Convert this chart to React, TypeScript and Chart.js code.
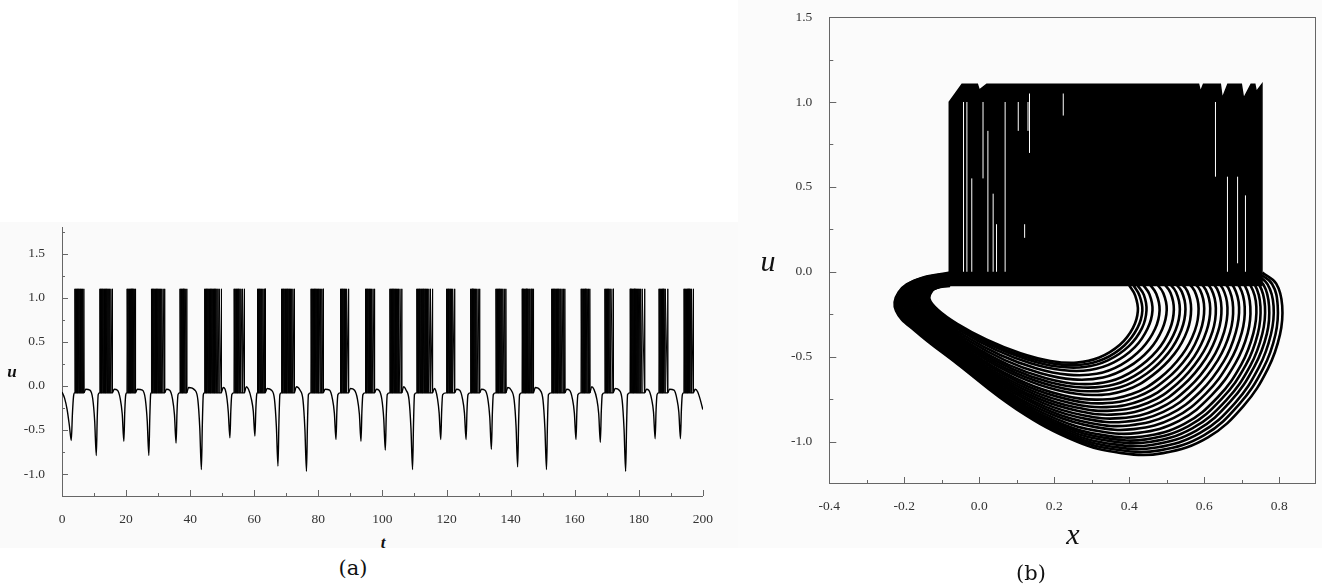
import React, { useEffect, useRef } from "react";
import { Chart, registerables } from "chart.js";
Chart.register(...registerables);

// ---------- axes / ticks ----------
const leftXMajor = [0, 20, 40, 60, 80, 100, 120, 140, 160, 180, 200];
const leftXMinor = [10, 30, 50, 70, 90, 110, 130, 150, 170, 190];
const leftYMajor = [-1.0, -0.5, 0.0, 0.5, 1.0, 1.5];
const leftYMinor = [-0.75, -0.25, 0.25, 0.75, 1.25, 1.75];
const rightXMajor = [-0.4, -0.2, 0.0, 0.2, 0.4, 0.6, 0.8];
const rightXMinor = [-0.3, -0.1, 0.1, 0.3, 0.5, 0.7];
const rightYMajor = [-1.0, -0.5, 0.0, 0.5, 1.0, 1.5];
const rightYMinor = [-0.75, -0.25, 0.25, 0.75, 1.25];

// ---------- (a) u(t) ----------
const spikeBase = -0.08;
const spikePeak = 1.1;
const burstSpikes: number[][] = [
  [3.95, 4.2, 4.45, 4.7, 4.95, 5.2, 5.45, 5.7, 6.0, 6.35, 6.75],
  [11.75, 11.95, 12.2, 12.45, 12.7, 12.95, 13.2, 13.45, 13.7, 13.95, 14.2, 14.5, 14.8, 15.2, 15.65],
  [20.25, 20.5, 20.75, 21.0, 21.25, 21.5, 21.8, 22.15, 22.5, 22.85],
  [27.85, 28.1, 28.35, 28.6, 28.85, 29.1, 29.35, 29.6, 29.85, 30.1, 30.4, 30.7, 31.05, 31.5, 31.95],
  [36.75, 37.0, 37.25, 37.5, 37.75, 38.05, 38.4, 38.85],
  [44.45, 44.7, 44.95, 45.2, 45.45, 45.7, 45.95, 46.2, 46.45, 46.7, 46.95, 47.2, 47.45, 47.7, 47.95, 48.25, 48.6, 49.0, 49.65],
  [53.65, 53.9, 54.15, 54.4, 54.65, 54.9, 55.15, 55.45, 55.8, 56.3, 56.85],
  [60.95, 61.2, 61.45, 61.7, 61.95, 62.25, 62.6, 63.0, 63.35],
  [68.45, 68.7, 68.95, 69.2, 69.45, 69.7, 69.95, 70.2, 70.45, 70.7, 70.95, 71.25, 71.6, 72.0, 72.45],
  [77.65, 77.9, 78.15, 78.4, 78.65, 78.9, 79.15, 79.4, 79.65, 79.9, 80.2, 80.55, 81.0, 81.45],
  [86.85, 87.1, 87.35, 87.6, 87.85, 88.1, 88.4, 88.75, 89.35],
  [94.65, 94.9, 95.15, 95.4, 95.65, 95.9, 96.2, 96.55, 97.0, 97.45],
  [102.25, 102.5, 102.75, 103.0, 103.25, 103.5, 103.75, 104.0, 104.3, 104.6, 104.95, 105.4, 105.95],
  [110.65, 110.9, 111.15, 111.4, 111.65, 111.9, 112.15, 112.4, 112.65, 112.9, 113.15, 113.4, 113.7, 114.0, 114.4, 114.9, 115.55],
  [119.95, 120.2, 120.45, 120.7, 120.95, 121.2, 121.5, 121.85, 122.45],
  [127.45, 127.7, 127.95, 128.2, 128.45, 128.7, 129.0, 129.35, 129.8, 130.25],
  [135.35, 135.6, 135.85, 136.1, 136.35, 136.6, 136.85, 137.15, 137.5, 137.95, 138.45],
  [143.55, 143.8, 144.05, 144.3, 144.55, 144.8, 145.05, 145.3, 145.6, 145.9, 146.3, 146.65, 147.05],
  [152.75, 153.0, 153.25, 153.5, 153.75, 154.0, 154.25, 154.5, 154.75, 155.0, 155.3, 155.6, 156.0, 156.4, 156.85],
  [161.95, 162.2, 162.45, 162.7, 162.95, 163.2, 163.5, 163.85, 164.25, 164.65],
  [169.35, 169.6, 169.85, 170.1, 170.35, 170.6, 170.9, 171.25, 171.95],
  [177.25, 177.5, 177.75, 178.0, 178.25, 178.5, 178.75, 179.0, 179.25, 179.5, 179.8, 180.1, 180.5, 181.0, 181.75],
  [186.25, 186.5, 186.75, 187.0, 187.25, 187.5, 187.8, 188.2, 188.95],
  [194.05, 194.3, 194.55, 194.8, 195.05, 195.3, 195.6, 195.95, 196.4, 196.95],
];

// slow (sub-threshold) part of u(t): [t, u]
const slowCurve: [number, number][] = [
  [0, -0.07], [0.8, -0.14], [1.6, -0.27], [2.3, -0.45], [2.9, -0.62], [3.25, -0.32], [3.6, -0.12], [3.9, -0.08],
  [6.8, -0.08], [7.4, -0.04], [8.7, -0.05], [9.6, -0.15], [10.2, -0.4], [10.7, -0.79], [11.0, -0.36], [11.3, -0.1], [11.7, -0.08],
  [15.7, -0.08], [16.3, -0.04], [17.3, -0.05], [18.2, -0.15], [18.8, -0.32], [19.3, -0.63], [19.6, -0.28], [19.9, -0.1], [20.2, -0.08],
  [22.9, -0.08], [23.5, -0.04], [25.1, -0.05], [26.0, -0.15], [26.6, -0.4], [27.1, -0.79], [27.4, -0.36], [27.65, -0.1], [27.8, -0.08],
  [32.0, -0.08], [32.6, -0.04], [33.6, -0.05], [34.5, -0.15], [35.1, -0.33], [35.6, -0.65], [35.9, -0.29], [36.2, -0.1], [36.7, -0.08],
  [38.9, -0.08], [39.5, -0.02], [41.5, -0.05], [42.4, -0.16], [43.0, -0.48], [43.5, -0.95], [43.8, -0.43], [44.1, -0.1], [44.4, -0.08],
  [49.7, -0.08], [50.3, -0.02], [50.9, -0.04], [51.5, -0.15], [51.9, -0.3], [52.4, -0.59], [52.7, -0.27], [53.0, -0.1], [53.6, -0.08],
  [56.9, -0.08], [57.5, -0.01], [58.2, -0.04], [59.1, -0.15], [59.7, -0.29], [60.2, -0.57], [60.5, -0.26], [60.75, -0.1], [60.9, -0.08],
  [63.4, -0.08], [64.0, -0.03], [65.4, -0.05], [66.3, -0.15], [66.9, -0.46], [67.4, -0.91], [67.7, -0.41], [68.0, -0.1], [68.4, -0.08],
  [72.5, -0.08], [73.1, -0.01], [74.3, -0.05], [75.2, -0.16], [75.8, -0.49], [76.3, -0.97], [76.6, -0.44], [76.9, -0.1], [77.6, -0.08],
  [81.5, -0.08], [82.1, -0.04], [83.5, -0.05], [84.4, -0.15], [85.0, -0.31], [85.5, -0.61], [85.8, -0.27], [86.1, -0.1], [86.8, -0.08],
  [89.4, -0.08], [90.0, -0.03], [91.3, -0.05], [92.2, -0.15], [92.8, -0.32], [93.3, -0.63], [93.6, -0.28], [93.9, -0.1], [94.6, -0.08],
  [97.5, -0.08], [98.1, -0.04], [98.9, -0.05], [99.8, -0.15], [100.4, -0.37], [100.9, -0.73], [101.2, -0.33], [101.5, -0.1], [102.2, -0.08],
  [106.0, -0.08], [106.6, -0.01], [107.4, -0.05], [108.3, -0.16], [108.9, -0.48], [109.4, -0.95], [109.7, -0.43], [110.0, -0.1], [110.6, -0.08],
  [115.6, -0.08], [116.2, -0.03], [116.6, -0.05], [117.2, -0.15], [117.7, -0.31], [118.2, -0.61], [118.5, -0.27], [118.8, -0.1], [119.9, -0.08],
  [122.5, -0.08], [123.1, -0.04], [124.1, -0.05], [125.0, -0.15], [125.6, -0.31], [126.1, -0.61], [126.4, -0.27], [126.7, -0.1], [127.4, -0.08],
  [130.3, -0.08], [130.9, -0.04], [132.0, -0.05], [132.9, -0.15], [133.5, -0.36], [134.0, -0.72], [134.3, -0.32], [134.6, -0.1], [135.3, -0.08],
  [138.5, -0.08], [139.1, -0.02], [140.2, -0.05], [141.1, -0.16], [141.7, -0.46], [142.2, -0.92], [142.5, -0.41], [142.8, -0.1], [143.5, -0.08],
  [147.1, -0.08], [147.7, -0.02], [149.2, -0.05], [150.1, -0.16], [150.7, -0.48], [151.2, -0.95], [151.5, -0.43], [151.8, -0.1], [152.7, -0.08],
  [156.9, -0.08], [157.5, -0.04], [158.4, -0.05], [159.3, -0.15], [159.9, -0.31], [160.4, -0.61], [160.7, -0.27], [161.0, -0.1], [161.9, -0.08],
  [164.7, -0.08], [165.3, -0.01], [166.0, -0.04], [166.9, -0.15], [167.5, -0.32], [168.0, -0.64], [168.3, -0.29], [168.6, -0.1], [169.3, -0.08],
  [172.0, -0.08], [172.6, -0.03], [173.9, -0.05], [174.8, -0.16], [175.4, -0.49], [175.9, -0.97], [176.2, -0.44], [176.5, -0.1], [177.2, -0.08],
  [181.8, -0.08], [182.4, -0.04], [183.1, -0.05], [184.0, -0.15], [184.6, -0.3], [185.1, -0.6], [185.4, -0.27], [185.7, -0.1], [186.2, -0.08],
  [189.0, -0.08], [189.6, -0.04], [191.0, -0.05], [191.9, -0.15], [192.5, -0.3], [193.0, -0.6], [193.3, -0.27], [193.6, -0.1], [194.0, -0.08],
  [197.0, -0.08], [197.6, -0.04], [198.4, -0.07], [199.2, -0.16], [200, -0.27],
];

// ---------- (b) phase portrait (x, u) ----------
const blockBase = -0.085;
const blockX = [-0.08, -0.08, -0.046, -0.005, 0.0, 0.02, 0.585, 0.59, 0.598, 0.643, 0.648, 0.663, 0.699, 0.705, 0.725, 0.735, 0.739, 0.754, 0.754];
const blockU = [-0.085, 1.0, 1.105, 1.105, 1.07, 1.105, 1.105, 1.06, 1.105, 1.105, 1.02, 1.105, 1.105, 1.02, 1.105, 1.105, 1.06, 1.105, -0.085];

const gapX = [-0.042, -0.033, -0.02, 0.01, 0.023, 0.037, 0.046, 0.069, 0.104, 0.121, 0.13, 0.134, 0.224, 0.63, 0.662, 0.689, 0.71];
const gapLow = [0.0, 0.0, 0.0, 0.55, 0.0, 0.0, 0.0, 0.0, 0.83, 0.2, 0.83, 0.7, 0.92, 0.56, 0.0, 0.05, 0.0];
const gapHigh = [1.0, 1.0, 0.55, 1.0, 0.83, 0.46, 0.28, 1.0, 1.0, 0.28, 1.0, 1.05, 1.05, 1.0, 0.56, 0.56, 0.45];

// return loops after each burst (inner to outer)
const loopX: number[][] = [
  [0.400, 0.416, 0.423, 0.410, 0.375, 0.320, 0.260, 0.190, 0.110, 0.020, -0.060, -0.110, -0.133, -0.125, -0.112, -0.095, -0.078],
  [0.411, 0.427, 0.435, 0.422, 0.387, 0.332, 0.271, 0.199, 0.118, 0.027, -0.055, -0.109, -0.134, -0.128, -0.115, -0.097, -0.078],
  [0.421, 0.439, 0.446, 0.434, 0.399, 0.343, 0.281, 0.208, 0.126, 0.034, -0.050, -0.107, -0.135, -0.131, -0.118, -0.099, -0.078],
  [0.436, 0.454, 0.462, 0.449, 0.415, 0.359, 0.295, 0.220, 0.137, 0.044, -0.044, -0.105, -0.137, -0.135, -0.122, -0.102, -0.078],
  [0.453, 0.472, 0.481, 0.469, 0.434, 0.378, 0.313, 0.235, 0.151, 0.056, -0.036, -0.103, -0.139, -0.140, -0.128, -0.106, -0.078],
  [0.471, 0.491, 0.500, 0.488, 0.454, 0.397, 0.330, 0.250, 0.164, 0.068, -0.028, -0.100, -0.140, -0.144, -0.133, -0.109, -0.078],
  [0.489, 0.510, 0.519, 0.508, 0.474, 0.416, 0.348, 0.265, 0.178, 0.080, -0.020, -0.098, -0.142, -0.149, -0.138, -0.113, -0.078],
  [0.503, 0.525, 0.535, 0.524, 0.490, 0.432, 0.362, 0.277, 0.188, 0.090, -0.014, -0.096, -0.144, -0.153, -0.142, -0.115, -0.078],
  [0.517, 0.540, 0.550, 0.539, 0.505, 0.447, 0.376, 0.289, 0.199, 0.099, -0.007, -0.094, -0.145, -0.157, -0.146, -0.118, -0.078],
  [0.531, 0.555, 0.565, 0.555, 0.521, 0.462, 0.390, 0.301, 0.210, 0.109, -0.001, -0.092, -0.147, -0.161, -0.150, -0.121, -0.078],
  [0.549, 0.574, 0.585, 0.575, 0.541, 0.482, 0.407, 0.316, 0.223, 0.121, 0.007, -0.089, -0.149, -0.166, -0.155, -0.124, -0.078],
  [0.563, 0.589, 0.600, 0.590, 0.557, 0.497, 0.421, 0.328, 0.234, 0.130, 0.014, -0.087, -0.150, -0.170, -0.159, -0.127, -0.078],
  [0.578, 0.604, 0.616, 0.606, 0.573, 0.513, 0.435, 0.340, 0.245, 0.140, 0.020, -0.085, -0.152, -0.174, -0.164, -0.130, -0.078],
  [0.592, 0.619, 0.631, 0.622, 0.588, 0.528, 0.449, 0.352, 0.256, 0.150, 0.026, -0.083, -0.153, -0.177, -0.168, -0.133, -0.078],
  [0.606, 0.634, 0.646, 0.637, 0.604, 0.543, 0.463, 0.364, 0.267, 0.159, 0.033, -0.081, -0.155, -0.181, -0.172, -0.136, -0.078],
  [0.620, 0.649, 0.662, 0.653, 0.620, 0.559, 0.477, 0.376, 0.277, 0.169, 0.039, -0.079, -0.156, -0.185, -0.176, -0.138, -0.078],
  [0.634, 0.664, 0.677, 0.669, 0.636, 0.574, 0.491, 0.388, 0.288, 0.178, 0.046, -0.077, -0.157, -0.189, -0.180, -0.141, -0.078],
  [0.649, 0.679, 0.693, 0.684, 0.652, 0.590, 0.505, 0.400, 0.299, 0.188, 0.052, -0.075, -0.159, -0.193, -0.184, -0.144, -0.078],
  [0.663, 0.694, 0.708, 0.700, 0.667, 0.605, 0.519, 0.412, 0.310, 0.198, 0.058, -0.073, -0.160, -0.197, -0.188, -0.147, -0.078],
  [0.677, 0.709, 0.723, 0.716, 0.683, 0.620, 0.533, 0.424, 0.321, 0.207, 0.065, -0.071, -0.162, -0.201, -0.192, -0.150, -0.078],
  [0.691, 0.724, 0.739, 0.731, 0.699, 0.636, 0.547, 0.436, 0.331, 0.217, 0.071, -0.069, -0.163, -0.205, -0.196, -0.152, -0.078],
  [0.702, 0.736, 0.750, 0.743, 0.711, 0.647, 0.558, 0.445, 0.340, 0.224, 0.076, -0.068, -0.164, -0.207, -0.200, -0.155, -0.078],
  [0.712, 0.747, 0.762, 0.755, 0.723, 0.659, 0.568, 0.454, 0.348, 0.231, 0.081, -0.066, -0.166, -0.210, -0.203, -0.157, -0.078],
  [0.723, 0.758, 0.773, 0.767, 0.734, 0.670, 0.579, 0.463, 0.356, 0.238, 0.086, -0.065, -0.167, -0.213, -0.206, -0.159, -0.078],
  [0.734, 0.769, 0.785, 0.778, 0.746, 0.682, 0.589, 0.472, 0.364, 0.246, 0.090, -0.063, -0.168, -0.216, -0.209, -0.161, -0.078],
  [0.744, 0.781, 0.796, 0.790, 0.758, 0.693, 0.600, 0.481, 0.372, 0.253, 0.095, -0.062, -0.169, -0.219, -0.212, -0.163, -0.078],
  [0.755, 0.792, 0.808, 0.802, 0.770, 0.705, 0.610, 0.490, 0.380, 0.260, 0.100, -0.060, -0.170, -0.222, -0.215, -0.165, -0.078],
];
const loopU: number[][] = [
  [-0.080, -0.140, -0.230, -0.330, -0.430, -0.505, -0.535, -0.525, -0.480, -0.400, -0.305, -0.225, -0.160, -0.110, -0.095, -0.086, -0.084],
  [-0.078, -0.138, -0.229, -0.331, -0.434, -0.514, -0.548, -0.541, -0.498, -0.418, -0.320, -0.234, -0.166, -0.114, -0.096, -0.085, -0.082],
  [-0.076, -0.136, -0.228, -0.332, -0.438, -0.522, -0.561, -0.558, -0.515, -0.436, -0.335, -0.244, -0.171, -0.117, -0.097, -0.084, -0.079],
  [-0.073, -0.133, -0.227, -0.334, -0.444, -0.534, -0.579, -0.579, -0.539, -0.460, -0.356, -0.257, -0.179, -0.122, -0.098, -0.082, -0.076],
  [-0.069, -0.130, -0.226, -0.336, -0.451, -0.548, -0.601, -0.606, -0.568, -0.490, -0.381, -0.272, -0.189, -0.128, -0.099, -0.080, -0.072],
  [-0.065, -0.126, -0.224, -0.338, -0.458, -0.562, -0.623, -0.634, -0.598, -0.520, -0.406, -0.288, -0.198, -0.134, -0.100, -0.078, -0.068],
  [-0.061, -0.123, -0.223, -0.340, -0.465, -0.576, -0.645, -0.661, -0.627, -0.550, -0.431, -0.304, -0.208, -0.140, -0.101, -0.076, -0.064],
  [-0.058, -0.120, -0.221, -0.342, -0.471, -0.588, -0.663, -0.682, -0.651, -0.574, -0.451, -0.316, -0.215, -0.145, -0.102, -0.074, -0.061],
  [-0.055, -0.117, -0.220, -0.343, -0.476, -0.599, -0.680, -0.704, -0.674, -0.598, -0.472, -0.329, -0.223, -0.150, -0.103, -0.073, -0.058],
  [-0.052, -0.114, -0.219, -0.345, -0.482, -0.610, -0.698, -0.726, -0.698, -0.622, -0.492, -0.342, -0.230, -0.154, -0.104, -0.071, -0.055],
  [-0.049, -0.111, -0.217, -0.347, -0.489, -0.625, -0.720, -0.753, -0.727, -0.652, -0.517, -0.357, -0.240, -0.160, -0.106, -0.069, -0.051],
  [-0.046, -0.108, -0.216, -0.348, -0.494, -0.636, -0.737, -0.775, -0.750, -0.676, -0.537, -0.370, -0.247, -0.165, -0.107, -0.067, -0.048],
  [-0.043, -0.105, -0.215, -0.350, -0.500, -0.648, -0.755, -0.797, -0.774, -0.700, -0.558, -0.383, -0.255, -0.170, -0.108, -0.066, -0.045],
  [-0.040, -0.102, -0.214, -0.352, -0.506, -0.659, -0.773, -0.818, -0.798, -0.724, -0.578, -0.395, -0.263, -0.175, -0.109, -0.064, -0.041],
  [-0.037, -0.099, -0.213, -0.353, -0.511, -0.670, -0.790, -0.840, -0.821, -0.748, -0.598, -0.408, -0.270, -0.180, -0.110, -0.062, -0.038],
  [-0.034, -0.097, -0.211, -0.355, -0.517, -0.682, -0.808, -0.862, -0.845, -0.772, -0.618, -0.420, -0.278, -0.184, -0.111, -0.061, -0.035],
  [-0.031, -0.094, -0.210, -0.356, -0.522, -0.693, -0.825, -0.883, -0.868, -0.796, -0.638, -0.433, -0.285, -0.189, -0.112, -0.059, -0.032],
  [-0.028, -0.091, -0.209, -0.358, -0.528, -0.705, -0.843, -0.905, -0.892, -0.820, -0.659, -0.446, -0.293, -0.194, -0.113, -0.057, -0.029],
  [-0.025, -0.088, -0.208, -0.360, -0.534, -0.716, -0.861, -0.927, -0.915, -0.844, -0.679, -0.458, -0.301, -0.199, -0.114, -0.056, -0.026],
  [-0.022, -0.085, -0.207, -0.361, -0.539, -0.727, -0.878, -0.949, -0.939, -0.868, -0.699, -0.471, -0.308, -0.204, -0.115, -0.054, -0.022],
  [-0.019, -0.083, -0.205, -0.363, -0.545, -0.739, -0.896, -0.970, -0.962, -0.892, -0.719, -0.483, -0.316, -0.208, -0.116, -0.052, -0.019],
  [-0.016, -0.081, -0.205, -0.364, -0.549, -0.747, -0.909, -0.987, -0.980, -0.910, -0.734, -0.493, -0.322, -0.212, -0.116, -0.051, -0.017],
  [-0.014, -0.078, -0.204, -0.365, -0.553, -0.756, -0.922, -1.003, -0.997, -0.928, -0.749, -0.502, -0.327, -0.216, -0.117, -0.050, -0.014],
  [-0.012, -0.076, -0.203, -0.366, -0.557, -0.764, -0.935, -1.019, -1.015, -0.946, -0.765, -0.512, -0.333, -0.219, -0.118, -0.049, -0.012],
  [-0.010, -0.074, -0.202, -0.368, -0.562, -0.773, -0.949, -1.035, -1.033, -0.964, -0.780, -0.521, -0.339, -0.223, -0.119, -0.048, -0.010],
  [-0.007, -0.072, -0.201, -0.369, -0.566, -0.781, -0.962, -1.052, -1.050, -0.982, -0.795, -0.531, -0.344, -0.226, -0.119, -0.046, -0.007],
  [-0.005, -0.070, -0.200, -0.370, -0.570, -0.790, -0.975, -1.068, -1.068, -1.000, -0.810, -0.540, -0.350, -0.230, -0.120, -0.045, -0.005],
];

const SERIF = '"Liberation Serif", "Times New Roman", serif';
const AXIS_GRAY = "#666";

// inward tick marks (and optional frame)
const axisDecor = {
  id: "axisDecor",
  afterDatasetsDraw(chart: any, _args: any, opts: any) {
    const { ctx, chartArea: a, scales } = chart;
    const xs = scales.x;
    const ys = scales.y;
    ctx.save();
    ctx.strokeStyle = AXIS_GRAY;
    ctx.lineWidth = 1;
    if (opts.frame) {
      ctx.strokeRect(Math.round(a.left) + 0.5, Math.round(a.top) + 0.5, Math.round(a.right - a.left) - 1, Math.round(a.bottom - a.top) - 1);
    }
    ctx.beginPath();
    const xt = (vals: number[], len: number) =>
      vals.forEach((v) => {
        const p = Math.round(xs.getPixelForValue(v)) + 0.5;
        ctx.moveTo(p, a.bottom);
        ctx.lineTo(p, a.bottom - len);
      });
    const yt = (vals: number[], len: number) =>
      vals.forEach((v) => {
        const p = Math.round(ys.getPixelForValue(v)) + 0.5;
        ctx.moveTo(a.left, p);
        ctx.lineTo(a.left + len, p);
      });
    xt(opts.xMajor, opts.major);
    xt(opts.xMinor, opts.minor);
    yt(opts.yMajor, opts.major);
    yt(opts.yMinor, opts.minor);
    ctx.stroke();
    ctx.restore();
  },
};

export default function App() {
  const leftRef = useRef<HTMLCanvasElement>(null);
  const rightRef = useRef<HTMLCanvasElement>(null);

  useEffect(() => {
    const tickFont = { family: SERIF, size: 13.5 };

    // ---- (a) ----
    const slowData = slowCurve.map(([t, u]) => ({ x: t, y: u }));
    const spikeData: { x: number; y: number | null }[] = [];
    burstSpikes.forEach((burst) => {
      burst.forEach((s) => {
        spikeData.push({ x: s, y: spikeBase });
        spikeData.push({ x: s + 0.07, y: spikePeak });
      });
      const last = burst[burst.length - 1];
      spikeData.push({ x: last + 0.14, y: spikeBase });
      spikeData.push({ x: last + 0.15, y: null });
    });

    const left = new Chart(leftRef.current as HTMLCanvasElement, {
      type: "scatter",
      data: {
        datasets: [
          {
            data: spikeData as any,
            showLine: true,
            borderColor: "#000",
            borderWidth: 1,
            pointRadius: 0,
            tension: 0,
            spanGaps: false,
          },
          {
            data: slowData,
            showLine: true,
            borderColor: "#000",
            borderWidth: 1.4,
            pointRadius: 0,
            cubicInterpolationMode: "monotone",
          },
        ],
      },
      options: {
        responsive: false,
        animation: false,
        devicePixelRatio: 1,
        layout: { autoPadding: false, padding: { top: 16, right: 16.5, left: 0, bottom: 0 } },
        plugins: {
          legend: { display: false },
          tooltip: { enabled: false },
          axisDecor: { xMajor: leftXMajor, xMinor: leftXMinor, yMajor: leftYMajor, yMinor: leftYMinor, major: 6, minor: 3, frame: false },
        } as any,
        scales: {
          x: {
            type: "linear",
            min: 0,
            max: 200,
            grid: { display: false },
            border: { display: true, color: AXIS_GRAY, width: 1 },
            ticks: { font: tickFont, color: "#333", padding: 7, autoSkip: false, maxRotation: 0, callback: (v: any) => String(v) },
            afterBuildTicks: (s: any) => {
              s.ticks = leftXMajor.map((v) => ({ value: v }));
            },
            afterFit: (s: any) => {
              s.height = 34;
            },
          },
          y: {
            type: "linear",
            min: -1.25,
            max: 1.8,
            grid: { display: false },
            border: { display: true, color: AXIS_GRAY, width: 1 },
            ticks: { font: tickFont, color: "#333", padding: 9, autoSkip: false, callback: (v: any) => Number(v).toFixed(1) },
            afterBuildTicks: (s: any) => {
              s.ticks = leftYMajor.map((v) => ({ value: v }));
            },
            afterFit: (s: any) => {
              s.width = 62;
            },
          },
        },
      },
      plugins: [axisDecor as any],
    });

    // ---- (b) ----
    const blockData = blockX.map((x, i) => ({ x, y: blockU[i] }));
    const gapData: { x: number; y: number | null }[] = [];
    gapX.forEach((x, i) => {
      gapData.push({ x, y: gapLow[i] });
      gapData.push({ x, y: gapHigh[i] });
      gapData.push({ x, y: null });
    });
    const loopSets = loopX.map((xsArr, k) => ({
      data: xsArr.map((x, i) => ({ x, y: loopU[k][i] })),
      showLine: true,
      borderColor: "#000",
      borderWidth: 2.6,
      pointRadius: 0,
      tension: 0.4,
    }));

    const right = new Chart(rightRef.current as HTMLCanvasElement, {
      type: "scatter",
      data: {
        datasets: [
          {
            data: gapData as any,
            showLine: true,
            borderColor: "#fff",
            borderWidth: 1,
            pointRadius: 0,
            spanGaps: false,
          },
          {
            data: blockData,
            showLine: true,
            borderColor: "#000",
            borderWidth: 1.5,
            backgroundColor: "#000",
            pointRadius: 0,
            fill: { value: blockBase } as any,
          },
          ...loopSets,
        ] as any,
      },
      options: {
        responsive: false,
        animation: false,
        devicePixelRatio: 1,
        layout: { autoPadding: false, padding: { top: 15, right: 5.3, left: 0, bottom: 0 } },
        plugins: {
          legend: { display: false },
          tooltip: { enabled: false },
          axisDecor: { xMajor: rightXMajor, xMinor: rightXMinor, yMajor: rightYMajor, yMinor: rightYMinor, major: 7, minor: 4, frame: true },
        } as any,
        scales: {
          x: {
            type: "linear",
            min: -0.4,
            max: 0.9,
            grid: { display: false },
            border: { display: false },
            ticks: { font: tickFont, color: "#333", padding: 6, autoSkip: false, maxRotation: 0, callback: (v: any) => Number(v).toFixed(1) },
            afterBuildTicks: (s: any) => {
              s.ticks = rightXMajor.map((v) => ({ value: v }));
            },
            afterFit: (s: any) => {
              s.height = 46;
            },
          },
          y: {
            type: "linear",
            min: -1.25,
            max: 1.5,
            grid: { display: false },
            border: { display: false },
            ticks: { font: tickFont, color: "#333", padding: 9, autoSkip: false, callback: (v: any) => Number(v).toFixed(1) },
            afterBuildTicks: (s: any) => {
              s.ticks = rightYMajor.map((v) => ({ value: v }));
            },
            afterFit: (s: any) => {
              s.width = 89.3;
            },
          },
        },
      },
      plugins: [axisDecor as any],
    });

    return () => {
      left.destroy();
      right.destroy();
    };
  }, []);

  const label = (text: string, x: number, y: number, style: React.CSSProperties) => (
    <div
      style={{
        position: "absolute",
        left: x,
        top: y,
        transform: "translate(-50%, -50%)",
        whiteSpace: "nowrap",
        lineHeight: 1,
        color: "#111",
        ...style,
      }}
    >
      {text}
    </div>
  );

  return (
    <div style={{ position: "fixed", left: 0, top: 0, width: 1322, height: 588, background: "#fff", overflow: "hidden" }}>
      <div style={{ position: "absolute", left: 0, top: 222, width: 738, height: 326, background: "#fafafa" }} />
      <div style={{ position: "absolute", left: 738, top: 0, width: 584, height: 548, background: "#fbfbfb" }} />
      <canvas ref={leftRef} width={720} height={320} style={{ position: "absolute", left: 0, top: 210 }} />
      <canvas ref={rightRef} width={582} height={530} style={{ position: "absolute", left: 740, top: 0 }} />
      {label("u", 12, 371, { fontFamily: SERIF, fontStyle: "italic", fontWeight: "bold", fontSize: 17 })}
      {label("t", 383, 542, { fontFamily: SERIF, fontStyle: "italic", fontWeight: "bold", fontSize: 17 })}
      {label("(a)", 353, 568, { fontFamily: '"DejaVu Serif", serif', fontSize: 21 })}
      {label("u", 768, 261, { fontFamily: SERIF, fontStyle: "italic", fontSize: 30 })}
      {label("x", 1073, 534, { fontFamily: SERIF, fontStyle: "italic", fontSize: 30 })}
      {label("(b)", 1031, 573, { fontFamily: '"DejaVu Serif", serif', fontSize: 21 })}
    </div>
  );
}
